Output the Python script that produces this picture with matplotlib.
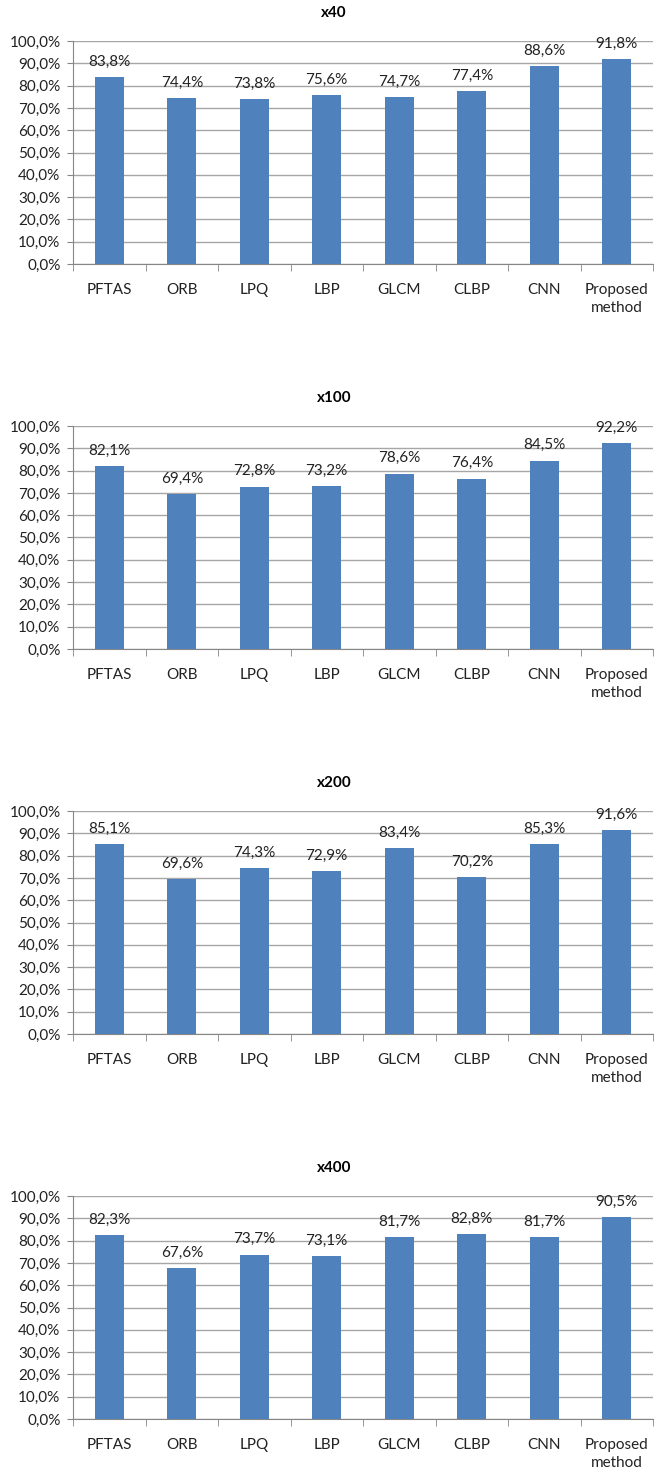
import numpy as np
import matplotlib
matplotlib.use("Agg")
import matplotlib.pyplot as plt
from matplotlib.ticker import FuncFormatter, FixedLocator

plt.rcParams['font.family'] = ['Lato', 'DejaVu Sans']

# data
methods = ["PFTAS", "ORB", "LPQ", "LBP", "GLCM", "CLBP", "CNN", "Proposed\nmethod"]
titles = ["x40", "x100", "x200", "x400"]
acc_x40 = [83.8, 74.4, 73.8, 75.6, 74.7, 77.4, 88.6, 91.8]
acc_x100 = [82.1, 69.4, 72.8, 73.2, 78.6, 76.4, 84.5, 92.2]
acc_x200 = [85.1, 69.6, 74.3, 72.9, 83.4, 70.2, 85.3, 91.6]
acc_x400 = [82.3, 67.6, 73.7, 73.1, 81.7, 82.8, 81.7, 90.5]
all_acc = [acc_x40, acc_x100, acc_x200, acc_x400]

W, H = 656, 1473
fig = plt.figure(figsize=(W / 100, H / 100), dpi=100)

bar_col = "#4F81BD"
grid_col = "#A6A6A6"
axis_col = "#868686"
txt_col = "#222222"

def pct(v, pos=None):
    return ("%.1f%%" % v).replace(".", ",")

x = np.arange(len(methods))
for i, (title, vals) in enumerate(zip(titles, all_acc)):
    top_px = 41 + 385 * i
    bot_px = 264 + 385 * i
    ax = fig.add_axes([73 / W, 1 - bot_px / H, 580 / W, (bot_px - top_px) / H])
    ax.bar(x, vals, width=0.4, color=bar_col, zorder=3)
    for xi, v in zip(x, vals):
        ax.annotate(pct(v), (xi, v), xytext=(0, 6), textcoords="offset points",
                    ha="center", va="bottom", fontsize=11, color=txt_col)
    ax.set_xlim(-0.5, len(methods) - 0.5)
    ax.set_ylim(0, 100)
    ax.set_yticks(np.arange(0, 101, 10))
    ax.yaxis.set_major_formatter(FuncFormatter(pct))
    ax.grid(axis="y", color=grid_col, linewidth=1.0, zorder=0)
    ax.set_xticks(x)
    ax.set_xticklabels(methods, fontsize=11, color=txt_col, linespacing=1.35)
    ax.xaxis.set_minor_locator(FixedLocator(np.arange(-0.5, len(methods), 1.0)))
    ax.tick_params(axis="x", which="major", length=0, pad=14)
    ax.tick_params(axis="x", which="minor", length=5, color=axis_col, direction="out")
    ax.tick_params(axis="y", length=4, color=axis_col, labelsize=11,
                   labelcolor=txt_col, pad=5)
    for s in ["top", "right"]:
        ax.spines[s].set_visible(False)
    for s in ["left", "bottom"]:
        ax.spines[s].set_color(axis_col)
    fig.text(334 / W, 1 - (top_px - 28) / H, title, ha="center", va="center",
             fontsize=11, fontweight="bold")

fig.savefig("out.png", dpi=100, facecolor="white")
